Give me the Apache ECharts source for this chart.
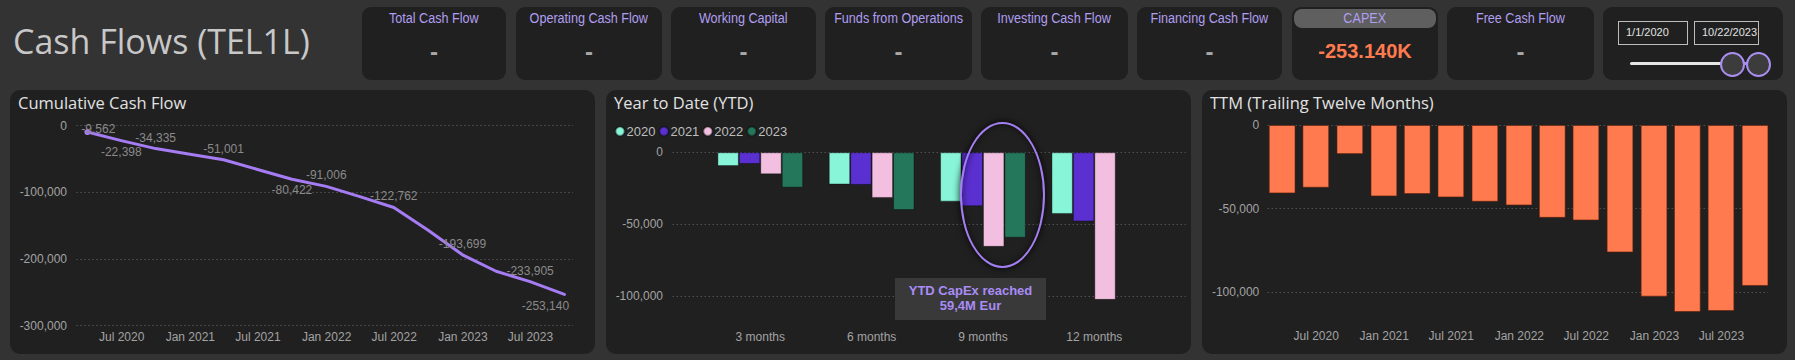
<!DOCTYPE html>
<html><head><meta charset="utf-8">
<script src="https://cdn.jsdelivr.net/npm/echarts@6.0.0/dist/echarts.min.js"></script>
<style>
html,body{margin:0;padding:0;}
body{width:1795px;height:360px;background:#333333;position:relative;overflow:hidden;font-family:"Liberation Sans",Arial,sans-serif;}
#title{position:absolute;left:13px;top:18px;font-family:"Open Sans",sans-serif;font-size:34px;color:#c8c8c8;line-height:46px;white-space:nowrap;}
.card{position:absolute;top:7px;height:73px;background:#202020;border-radius:9px;}
.card .t{position:absolute;left:-20px;right:-20px;top:2px;text-align:center;font-family:"Liberation Sans",Arial,sans-serif;font-size:14px;color:#b09ef0;line-height:18px;white-space:nowrap;}
.card .t span{display:inline-block;transform:scaleX(0.9);transform-origin:50% 50%;}
.card .v{position:absolute;left:0;right:0;top:28px;text-align:center;font-size:24px;color:#a8a8a8;line-height:34px;font-weight:bold;}
.card .hdr{position:absolute;left:1.5px;top:2px;width:142px;height:19px;background:#5f5f5f;border-radius:8px;}
.card .cv{position:absolute;left:0;right:0;top:32px;text-align:center;font-size:20px;font-weight:bold;color:#ff7b4f;line-height:24px;}
.dbox{position:absolute;top:20.5px;height:24px;box-sizing:border-box;border:1.5px solid #bdbdbd;color:#e2e2e2;font-size:11px;line-height:21px;padding-left:7px;white-space:nowrap;}
.knob{position:absolute;top:51.5px;width:25px;height:25px;box-sizing:border-box;border:2.5px solid #a98ef0;background:#3c3c3c;border-radius:50%;}
.panel{position:absolute;top:90px;height:264px;width:585px;background:#202020;border-radius:10px;}
.ptitle{position:absolute;left:8px;top:2px;font-family:"Open Sans",sans-serif;font-size:16.5px;line-height:22px;color:#e2e2e2;white-space:nowrap;}
#chart{position:absolute;left:0;top:0;width:1795px;height:360px;z-index:1;}
#ellipse{position:absolute;left:960px;top:121.5px;width:85px;height:146px;box-sizing:border-box;border:2px solid #a47ff2;border-radius:50%;z-index:2;box-shadow:0 0 6px 1px rgba(0,0,0,0.7), inset 0 0 6px 1px rgba(0,0,0,0.45);}
#note{position:absolute;left:895px;top:277.5px;width:151px;height:42px;background:#393939;z-index:2;text-align:center;font-weight:bold;font-size:13px;line-height:15px;color:#a98cf5;box-sizing:border-box;padding-top:5px;}
</style></head>
<body>
<div id="title">Cash Flows (TEL1L)</div>

<div class="card" style="left:362px;width:144px"><div class="t"><span>Total Cash Flow</span></div><div class="v">-</div></div>
<div class="card" style="left:516px;width:146px"><div class="t"><span>Operating Cash Flow</span></div><div class="v">-</div></div>
<div class="card" style="left:671px;width:145px"><div class="t"><span>Working Capital</span></div><div class="v">-</div></div>
<div class="card" style="left:825px;width:147px"><div class="t"><span>Funds from Operations</span></div><div class="v">-</div></div>
<div class="card" style="left:981px;width:147px"><div class="t"><span>Investing Cash Flow</span></div><div class="v">-</div></div>
<div class="card" style="left:1137px;width:145px"><div class="t"><span>Financing Cash Flow</span></div><div class="v">-</div></div>
<div class="card" style="left:1292px;width:146px"><div class="hdr"></div><div class="t"><span>CAPEX</span></div><div class="cv">-253.140K</div></div>
<div class="card" style="left:1447px;width:147px"><div class="t"><span>Free Cash Flow</span></div><div class="v">-</div></div>
<div class="card" style="left:1603px;width:180px"></div>
<div class="dbox" style="left:1618px;width:70px">1/1/2020</div>
<div class="dbox" style="left:1694px;width:65px">10/22/2023</div>
<div style="position:absolute;left:1630px;top:61.5px;width:94px;height:3px;background:#e6e6e6;border-radius:1.5px"></div>
<div style="position:absolute;left:1740px;top:62px;width:10px;height:3px;background:#a98ef0"></div>
<div class="knob" style="left:1720px"></div>
<div class="knob" style="left:1746px"></div>

<div class="panel" style="left:10px"><div class="ptitle">Cumulative Cash Flow</div></div>
<div class="panel" style="left:606px"><div class="ptitle">Year to Date (YTD)</div></div>
<div class="panel" style="left:1202px"><div class="ptitle">TTM (Trailing Twelve Months)</div></div>

<div id="chart"></div>
<div id="ellipse"></div>
<div id="note">YTD CapEx reached<br>59,4M Eur</div>

<script>
// ---- data ----
const quarterDates = ['2020-03-31','2020-06-30','2020-09-30','2020-12-31','2021-03-31','2021-06-30','2021-09-30','2021-12-31','2022-03-31','2022-06-30','2022-09-30','2022-12-31','2023-03-31','2023-06-30','2023-09-30'];
const cumulativeValues = [-9562,-22398,-34335,-42901,-51001,-65601,-80422,-91006,-106306,-122762,-156806,-193699,-218299,-233905,-253140];
const ttmValues = [-40900,-37500,-17400,-42700,-41300,-43300,-45900,-48100,-55500,-57100,-76200,-102600,-111800,-111200,-96200];
const ytdCategories = ['3 months','6 months','9 months','12 months'];
const ytdYears = ['2020','2021','2022','2023'];
const ytd2020 = [-9562,-22398,-34335,-42901];
const ytd2021 = [-8100,-22700,-37521,-48105];
const ytd2022 = [-15300,-31756,-65800,-102693];
const ytd2023 = [-24600,-40206,-59441,null];
const timeTickDates = ['2020-07-01','2021-01-01','2021-07-01','2022-01-01','2022-07-01','2023-01-01','2023-07-01'];
const timeTickLabels = ['Jul 2020','Jan 2021','Jul 2021','Jan 2022','Jul 2022','Jan 2023','Jul 2023'];

// ---- helpers ----
function ts(s){const p=s.split('-').map(Number);return new Date(p[0],p[1]-1,p[2]).getTime();}
const tickTs = timeTickDates.map(ts);
function timeLabel(v){
  for(let i=0;i<tickTs.length;i++){ if(Math.abs(tickTs[i]-v)<86400000) return timeTickLabels[i]; }
  return '';
}
function fmt(v){ return Number(v).toLocaleString('en-US'); }

const labelFont = {color:'#a3a3a3', fontSize:12, fontFamily:'Liberation Sans'};
const dotted = {show:true, lineStyle:{color:'#6a6a6a', type:[1,3], width:1}};
const ytdColors = ['#88f4d8','#5b30d0','#f2bfe0','#25775b'];
const ytdSeriesData = [ytd2020, ytd2021, ytd2022, ytd2023];

// label placement for the cumulative line (styling only)
const shownLabels = {0:'first',1:'bottom',2:'top',4:'top',6:'bottom',7:'top',9:'top',11:'top',13:'top',14:'last'};
const lineData = quarterDates.map((d,i)=>{
  const item = {value:[ts(d), cumulativeValues[i]]};
  const pos = shownLabels[i];
  if(!pos){ item.label={show:false}; }
  else if(pos==='first'){ item.label={show:true, position:'inside', offset:[11,-3]}; item.symbolSize=6; }
  else if(pos==='last'){ item.label={show:true, position:'bottom', distance:5, offset:[-19,0]}; }
  else { item.label={show:true, position:pos, distance:5}; }
  return item;
});

function timeAxis(grid, minD, maxD, margin){
  return {gridIndex:grid, type:'value', min:ts(minD), max:ts(maxD), scale:true,
    axisLine:{show:false}, axisTick:{show:false}, splitLine:{show:false},
    axisLabel:Object.assign({customValues:tickTs, formatter:timeLabel, margin:margin, hideOverlap:false}, labelFont)};
}

const chart = echarts.init(document.getElementById('chart'), null, {renderer:'svg'});
const option = {
  animation:false,
  backgroundColor:'transparent',
  textStyle:{fontFamily:'Liberation Sans'},
  legend:{
    data:ytdYears, left:614.5, top:124.8, padding:0, icon:'circle', itemWidth:9, itemHeight:9, itemGap:3,
    textStyle:{color:'#bdbdbd', fontSize:13, fontFamily:'Liberation Sans', padding:[0,0,0,-3]}
  },
  grid:[
    {left:76.5, top:125.7, width:496.5, height:200},
    {left:672.7, top:152.3, width:512.8, height:143.7},
    {left:704.6, top:152.3, width:445.4, height:143.7},
    {left:1267.7, top:125, width:500.3, height:167.3}
  ],
  xAxis:[
    timeAxis(0, '2020-03-02', '2023-10-23', 5),
    {gridIndex:1, type:'value', show:false, min:0, max:1},
    {gridIndex:2, type:'category', data:ytdCategories, axisLine:{show:false}, axisTick:{show:false},
     axisLabel:Object.assign({margin:34.5}, labelFont)},
    timeAxis(3, '2020-02-21', '2023-11-04', 38)
  ],
  yAxis:[
    {gridIndex:0, type:'value', min:-300000, max:0, interval:100000, axisLine:{show:false}, axisTick:{show:false},
     splitLine:dotted, axisLabel:Object.assign({margin:9.5, formatter:fmt}, labelFont)},
    {gridIndex:1, type:'value', min:-100000, max:0, interval:50000, axisLine:{show:false}, axisTick:{show:false},
     splitLine:dotted, axisLabel:Object.assign({margin:9.7, formatter:fmt}, labelFont)},
    {gridIndex:2, type:'value', min:-100000, max:0, interval:50000, show:false},
    {gridIndex:3, type:'value', min:-100000, max:0, interval:50000, axisLine:{show:false}, axisTick:{show:false},
     splitLine:dotted, axisLabel:Object.assign({margin:8.4, formatter:fmt}, labelFont)}
  ],
  series:[
    {type:'line', xAxisIndex:0, yAxisIndex:0, data:lineData, symbol:'circle', symbolSize:0.1,
     lineStyle:{color:'#a57cf3', width:3, cap:'round', join:'round'}, itemStyle:{color:'#a57cf3'},
     label:{color:'#8a8a8a', fontSize:12, fontFamily:'Liberation Sans', formatter:p=>fmt(p.value[1])},
     z:3},
    ...ytdYears.map((y,i)=>({
      name:y, type:'bar', xAxisIndex:2, yAxisIndex:2, data:ytdSeriesData[i], barGap:'0%', barCategoryGap:'23%', clip:false,
      itemStyle:{color:ytdColors[i], borderColor:'rgba(0,0,0,0.35)', borderWidth:1}
    })),
    {type:'bar', xAxisIndex:3, yAxisIndex:3, data:quarterDates.map((d,i)=>[ts(d), ttmValues[i]]), barWidth:26.8, clip:false,
     itemStyle:{color:'#ff7b4f', borderColor:'rgba(90,30,10,0.6)', borderWidth:1}}
  ]
};
chart.setOption(option);
</script>
</body></html>
